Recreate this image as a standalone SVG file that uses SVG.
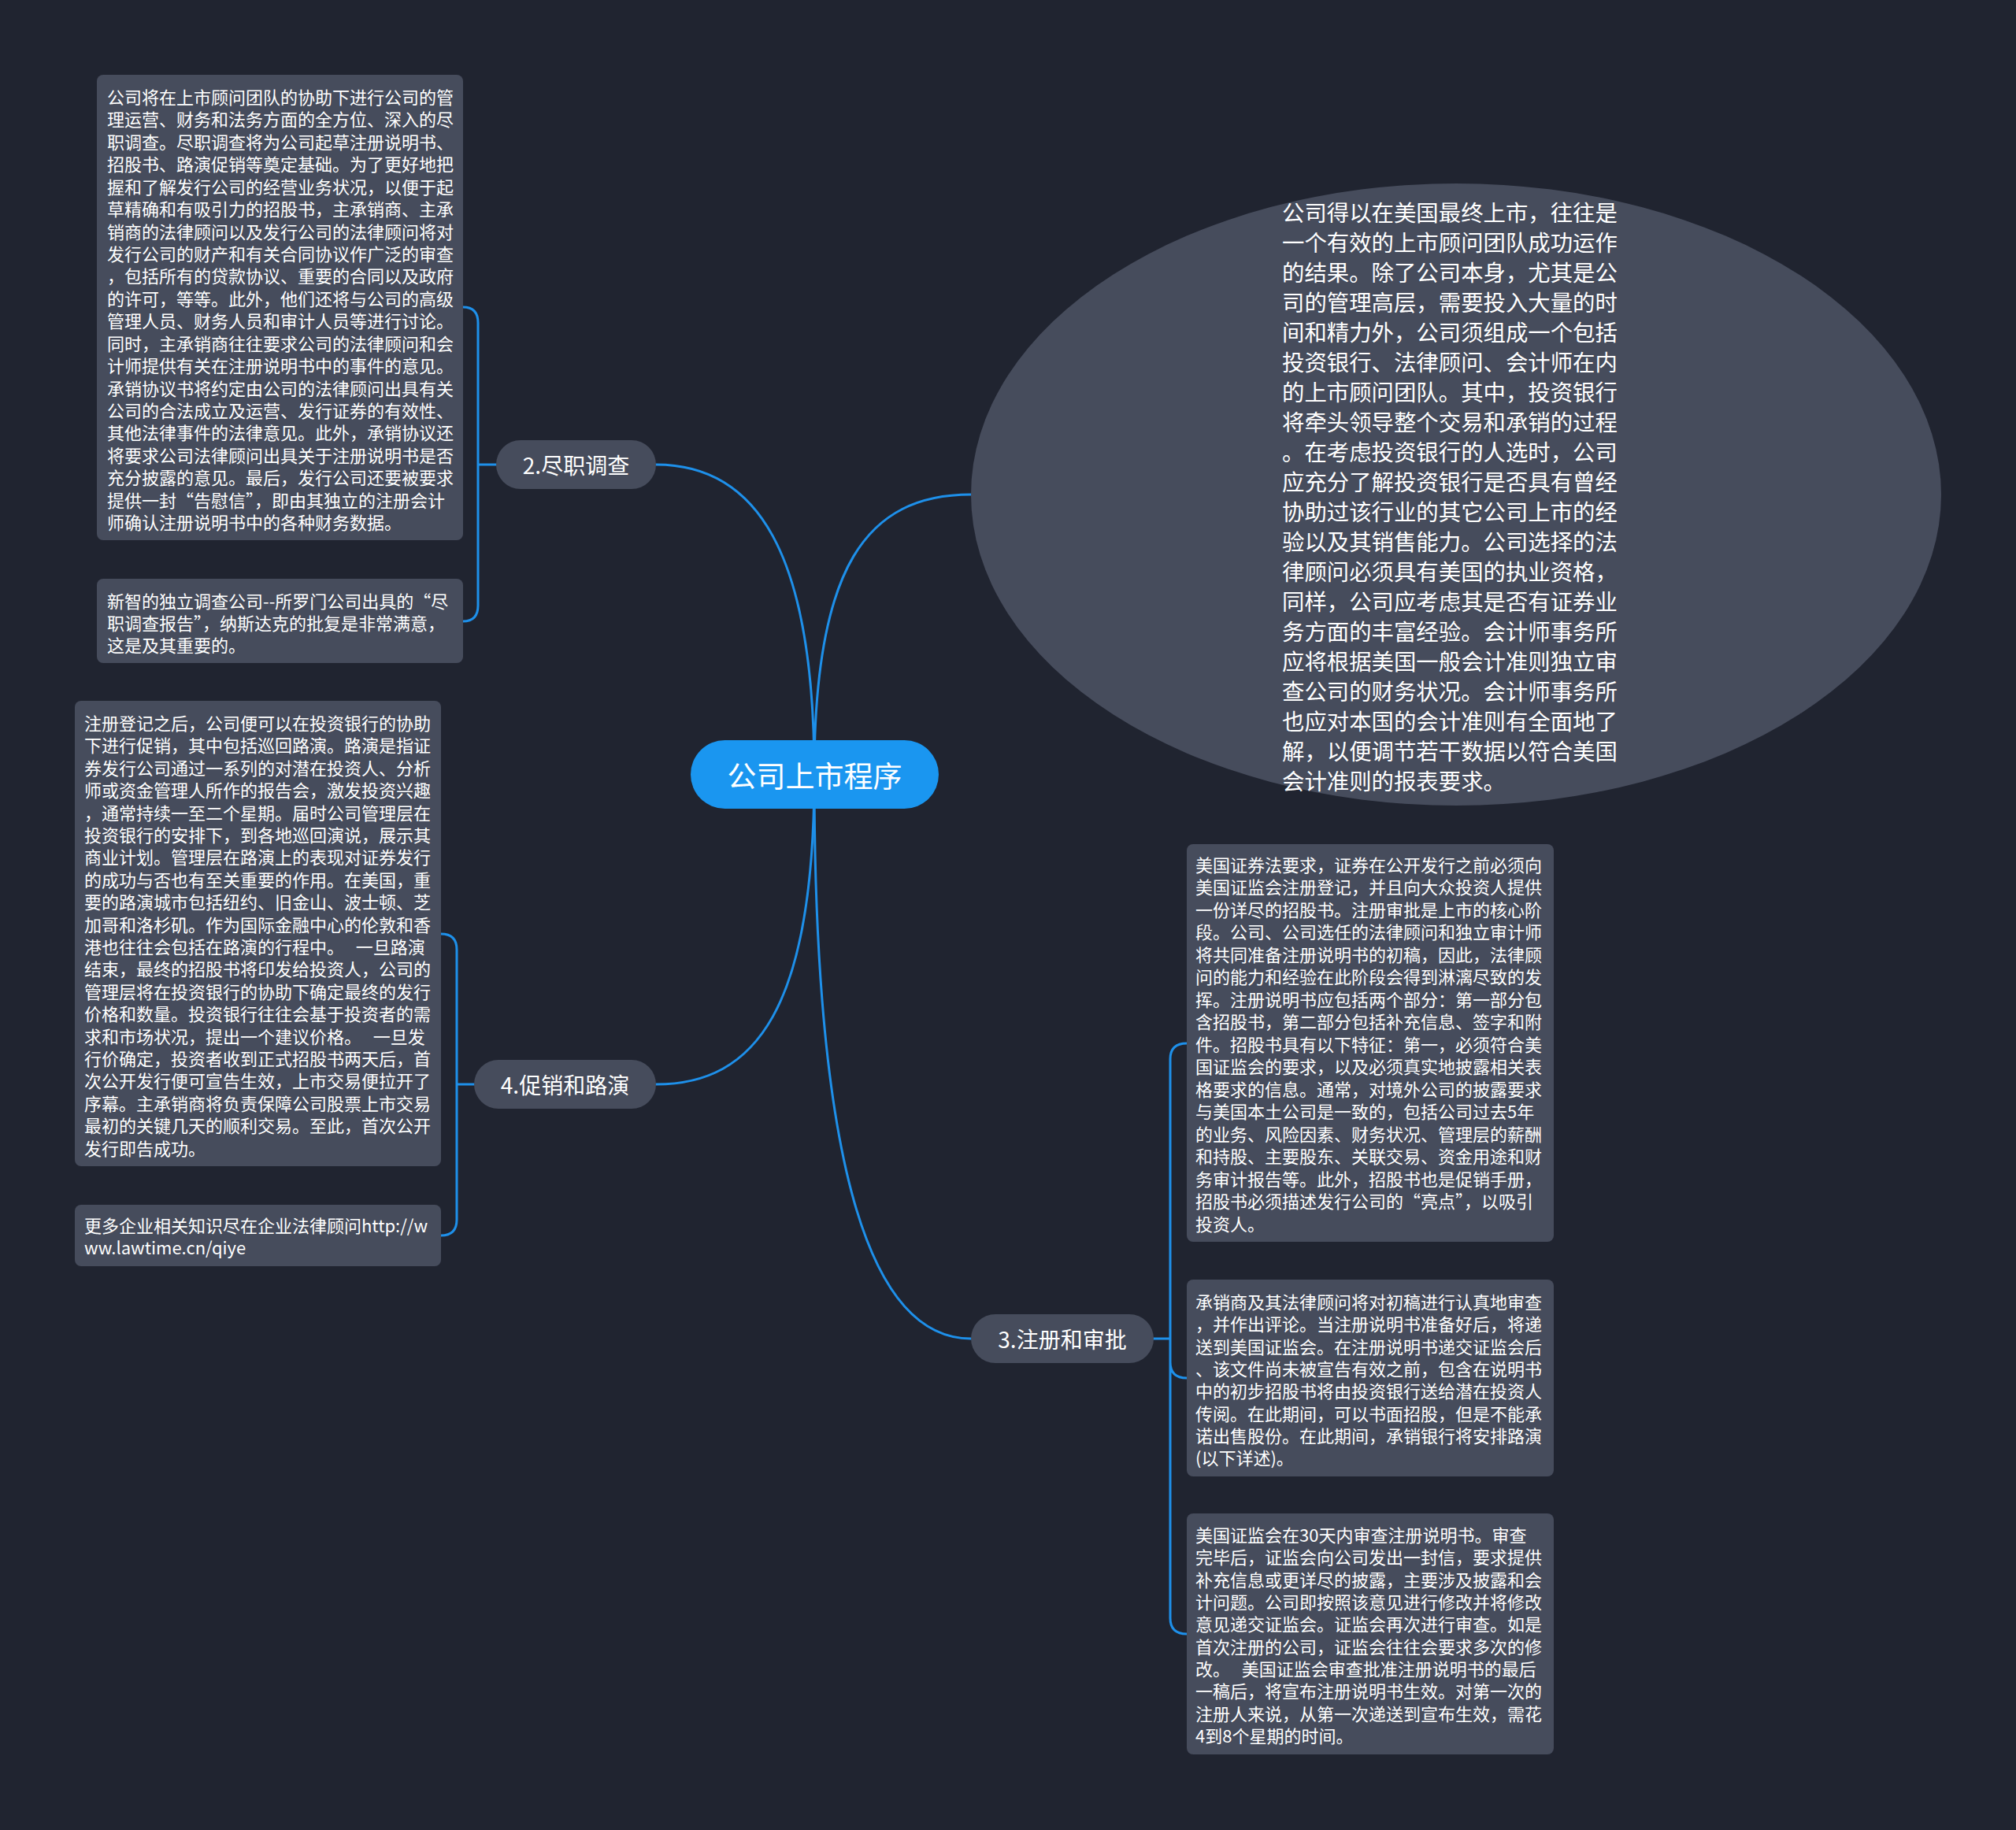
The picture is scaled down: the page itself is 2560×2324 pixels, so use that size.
<svg xmlns="http://www.w3.org/2000/svg" width="2560" height="2324" viewBox="0 0 2560 2324">
<style>
.bg{fill:#202430}
.box{fill:#464c5c}
.root{fill:#1a96f0}
.ln{fill:none;stroke:#1e90ea;stroke-width:3;stroke-linecap:round}
text{font-family:"Noto Sans CJK SC","Noto Sans",sans-serif;fill:#ffffff;dominant-baseline:central}
.t22{font-size:22px}
.t28{font-size:28.4px}
.lbl{font-size:28px;text-anchor:middle}
.rt{font-size:37px;text-anchor:middle}
</style>
<rect class="bg" x="0" y="0" width="2560" height="2324"/>
<g id="connectors">
<path class="ln" d="M1034,983 C1034,700 960,590 833,590"/>
<path class="ln" d="M1034,983 C1034,720 1100,628 1233,628"/>
<path class="ln" d="M1034,983 C1034,1280 960,1377 833,1377"/>
<path class="ln" d="M1034,983 C1034,1500 1110,1700 1233,1700"/>
<path class="ln" d="M630,590 H607 M607,590 V410 Q607,390 588,390 M607,590 V769 Q607,789 588,789"/>
<path class="ln" d="M602,1377 H580 M580,1377 V1206 Q580,1186 560,1186 M580,1377 V1549 Q580,1569 560,1569"/>
<path class="ln" d="M1465,1700 H1486 M1486,1700 V1345 Q1486,1325 1507,1325 M1486,1700 V1730 Q1486,1750 1507,1750 M1486,1700 V2055 Q1486,2075 1507,2075"/>
</g>
<g id="root">
<rect class="root" x="877" y="940" width="315" height="87" rx="43.5"/>
<text class="rt" x="1034.5" y="983.5">公司上市程序</text>
</g>
<g id="n1">
<ellipse class="box" cx="1849" cy="628" rx="616" ry="395"/>
<text class="t28">
<tspan x="1628" y="268">公司得以在美国最终上市，往往是</tspan>
<tspan x="1628" y="306">一个有效的上市顾问团队成功运作</tspan>
<tspan x="1628" y="344">的结果。除了公司本身，尤其是公</tspan>
<tspan x="1628" y="382">司的管理高层，需要投入大量的时</tspan>
<tspan x="1628" y="420">间和精力外，公司须组成一个包括</tspan>
<tspan x="1628" y="458">投资银行、法律顾问、会计师在内</tspan>
<tspan x="1628" y="496">的上市顾问团队。其中，投资银行</tspan>
<tspan x="1628" y="534">将牵头领导整个交易和承销的过程</tspan>
<tspan x="1628" y="572">。在考虑投资银行的人选时，公司</tspan>
<tspan x="1628" y="610">应充分了解投资银行是否具有曾经</tspan>
<tspan x="1628" y="648">协助过该行业的其它公司上市的经</tspan>
<tspan x="1628" y="686">验以及其销售能力。公司选择的法</tspan>
<tspan x="1628" y="724">律顾问必须具有美国的执业资格，</tspan>
<tspan x="1628" y="762">同样，公司应考虑其是否有证券业</tspan>
<tspan x="1628" y="800">务方面的丰富经验。会计师事务所</tspan>
<tspan x="1628" y="838">应将根据美国一般会计准则独立审</tspan>
<tspan x="1628" y="876">查公司的财务状况。会计师事务所</tspan>
<tspan x="1628" y="914">也应对本国的会计准则有全面地了</tspan>
<tspan x="1628" y="952">解，以便调节若干数据以符合美国</tspan>
<tspan x="1628" y="990">会计准则的报表要求。</tspan>
</text>
</g>
<g id="n2">
<rect class="box" x="630" y="559" width="203" height="62" rx="31"/>
<text class="lbl" x="731.5" y="590">2.尽职调查</text>
</g>
<g id="n2a">
<rect class="box" x="123" y="95" width="465" height="591" rx="8"/>
<text class="t22">
<tspan x="136" y="122">公司将在上市顾问团队的协助下进行公司的管</tspan>
<tspan x="136" y="150">理运营、财务和法务方面的全方位、深入的尽</tspan>
<tspan x="136" y="179">职调查。尽职调查将为公司起草注册说明书、</tspan>
<tspan x="136" y="207">招股书、路演促销等奠定基础。为了更好地把</tspan>
<tspan x="136" y="236">握和了解发行公司的经营业务状况，以便于起</tspan>
<tspan x="136" y="264">草精确和有吸引力的招股书，主承销商、主承</tspan>
<tspan x="136" y="293">销商的法律顾问以及发行公司的法律顾问将对</tspan>
<tspan x="136" y="321">发行公司的财产和有关合同协议作广泛的审查</tspan>
<tspan x="136" y="349">，包括所有的贷款协议、重要的合同以及政府</tspan>
<tspan x="136" y="378">的许可，等等。此外，他们还将与公司的高级</tspan>
<tspan x="136" y="406">管理人员、财务人员和审计人员等进行讨论。</tspan>
<tspan x="136" y="435">同时，主承销商往往要求公司的法律顾问和会</tspan>
<tspan x="136" y="463">计师提供有关在注册说明书中的事件的意见。</tspan>
<tspan x="136" y="492">承销协议书将约定由公司的法律顾问出具有关</tspan>
<tspan x="136" y="520">公司的合法成立及运营、发行证券的有效性、</tspan>
<tspan x="136" y="548">其他法律事件的法律意见。此外，承销协议还</tspan>
<tspan x="136" y="577">将要求公司法律顾问出具关于注册说明书是否</tspan>
<tspan x="136" y="605">充分披露的意见。最后，发行公司还要被要求</tspan>
<tspan x="136" y="634">提供一封“告慰信”，即由其独立的注册会计</tspan>
<tspan x="136" y="662">师确认注册说明书中的各种财务数据。</tspan>
</text>
</g>
<g id="n2b">
<rect class="box" x="123" y="735" width="465" height="107" rx="8"/>
<text class="t22">
<tspan x="136" y="762">新智的独立调查公司--所罗门公司出具的“尽</tspan>
<tspan x="136" y="790">职调查报告”，纳斯达克的批复是非常满意，</tspan>
<tspan x="136" y="818">这是及其重要的。</tspan>
</text>
</g>
<g id="n4">
<rect class="box" x="602" y="1346" width="231" height="62" rx="31"/>
<text class="lbl" x="717.5" y="1377">4.促销和路演</text>
</g>
<g id="n4a">
<rect class="box" x="95" y="890" width="465" height="591" rx="8"/>
<text class="t22">
<tspan x="107" y="917">注册登记之后，公司便可以在投资银行的协助</tspan>
<tspan x="107" y="945">下进行促销，其中包括巡回路演。路演是指证</tspan>
<tspan x="107" y="974">券发行公司通过一系列的对潜在投资人、分析</tspan>
<tspan x="107" y="1002">师或资金管理人所作的报告会，激发投资兴趣</tspan>
<tspan x="107" y="1031">，通常持续一至二个星期。届时公司管理层在</tspan>
<tspan x="107" y="1059">投资银行的安排下，到各地巡回演说，展示其</tspan>
<tspan x="107" y="1087">商业计划。管理层在路演上的表现对证券发行</tspan>
<tspan x="107" y="1116">的成功与否也有至关重要的作用。在美国，重</tspan>
<tspan x="107" y="1144">要的路演城市包括纽约、旧金山、波士顿、芝</tspan>
<tspan x="107" y="1173">加哥和洛杉矶。作为国际金融中心的伦敦和香</tspan>
<tspan x="107" y="1201">港也往往会包括在路演的行程中。&#160;&#160;&#160;一旦路演</tspan>
<tspan x="107" y="1229">结束，最终的招股书将印发给投资人，公司的</tspan>
<tspan x="107" y="1258">管理层将在投资银行的协助下确定最终的发行</tspan>
<tspan x="107" y="1286">价格和数量。投资银行往往会基于投资者的需</tspan>
<tspan x="107" y="1315">求和市场状况，提出一个建议价格。&#160;&#160;&#160;一旦发</tspan>
<tspan x="107" y="1343">行价确定，投资者收到正式招股书两天后，首</tspan>
<tspan x="107" y="1371">次公开发行便可宣告生效，上市交易便拉开了</tspan>
<tspan x="107" y="1400">序幕。主承销商将负责保障公司股票上市交易</tspan>
<tspan x="107" y="1428">最初的关键几天的顺利交易。至此，首次公开</tspan>
<tspan x="107" y="1457">发行即告成功。</tspan>
</text>
</g>
<g id="n4b">
<rect class="box" x="95" y="1530" width="465" height="78" rx="8"/>
<text class="t22">
<tspan x="107" y="1555">更多企业相关知识尽在企业法律顾问http://w</tspan>
<tspan x="107" y="1583">ww.lawtime.cn/qiye</tspan>
</text>
</g>
<g id="n3">
<rect class="box" x="1233" y="1669" width="232" height="62" rx="31"/>
<text class="lbl" x="1349" y="1700">3.注册和审批</text>
</g>
<g id="n3a">
<rect class="box" x="1507" y="1072" width="466" height="505" rx="8"/>
<text class="t22">
<tspan x="1518" y="1097">美国证券法要求，证券在公开发行之前必须向</tspan>
<tspan x="1518" y="1125">美国证监会注册登记，并且向大众投资人提供</tspan>
<tspan x="1518" y="1154">一份详尽的招股书。注册审批是上市的核心阶</tspan>
<tspan x="1518" y="1182">段。公司、公司选任的法律顾问和独立审计师</tspan>
<tspan x="1518" y="1211">将共同准备注册说明书的初稿，因此，法律顾</tspan>
<tspan x="1518" y="1239">问的能力和经验在此阶段会得到淋漓尽致的发</tspan>
<tspan x="1518" y="1268">挥。注册说明书应包括两个部分：第一部分包</tspan>
<tspan x="1518" y="1296">含招股书，第二部分包括补充信息、签字和附</tspan>
<tspan x="1518" y="1325">件。招股书具有以下特征：第一，必须符合美</tspan>
<tspan x="1518" y="1353">国证监会的要求，以及必须真实地披露相关表</tspan>
<tspan x="1518" y="1382">格要求的信息。通常，对境外公司的披露要求</tspan>
<tspan x="1518" y="1410">与美国本土公司是一致的，包括公司过去5年</tspan>
<tspan x="1518" y="1439">的业务、风险因素、财务状况、管理层的薪酬</tspan>
<tspan x="1518" y="1467">和持股、主要股东、关联交易、资金用途和财</tspan>
<tspan x="1518" y="1496">务审计报告等。此外，招股书也是促销手册，</tspan>
<tspan x="1518" y="1524">招股书必须描述发行公司的“亮点”，以吸引</tspan>
<tspan x="1518" y="1553">投资人。</tspan>
</text>
</g>
<g id="n3b">
<rect class="box" x="1507" y="1625" width="466" height="250" rx="8"/>
<text class="t22">
<tspan x="1518" y="1652">承销商及其法律顾问将对初稿进行认真地审查</tspan>
<tspan x="1518" y="1680">，并作出评论。当注册说明书准备好后，将递</tspan>
<tspan x="1518" y="1709">送到美国证监会。在注册说明书递交证监会后</tspan>
<tspan x="1518" y="1737">、该文件尚未被宣告有效之前，包含在说明书</tspan>
<tspan x="1518" y="1765">中的初步招股书将由投资银行送给潜在投资人</tspan>
<tspan x="1518" y="1794">传阅。在此期间，可以书面招股，但是不能承</tspan>
<tspan x="1518" y="1822">诺出售股份。在此期间，承销银行将安排路演</tspan>
<tspan x="1518" y="1850">(以下详述)。</tspan>
</text>
</g>
<g id="n3c">
<rect class="box" x="1507" y="1922" width="466" height="306" rx="8"/>
<text class="t22">
<tspan x="1518" y="1948">美国证监会在30天内审查注册说明书。审查</tspan>
<tspan x="1518" y="1976">完毕后，证监会向公司发出一封信，要求提供</tspan>
<tspan x="1518" y="2005">补充信息或更详尽的披露，主要涉及披露和会</tspan>
<tspan x="1518" y="2033">计问题。公司即按照该意见进行修改并将修改</tspan>
<tspan x="1518" y="2061">意见递交证监会。证监会再次进行审查。如是</tspan>
<tspan x="1518" y="2090">首次注册的公司，证监会往往会要求多次的修</tspan>
<tspan x="1518" y="2118">改。&#160;&#160;&#160;美国证监会审查批准注册说明书的最后</tspan>
<tspan x="1518" y="2146">一稿后，将宣布注册说明书生效。对第一次的</tspan>
<tspan x="1518" y="2175">注册人来说，从第一次递送到宣布生效，需花</tspan>
<tspan x="1518" y="2203">4到8个星期的时间。</tspan>
</text>
</g>
</svg>
